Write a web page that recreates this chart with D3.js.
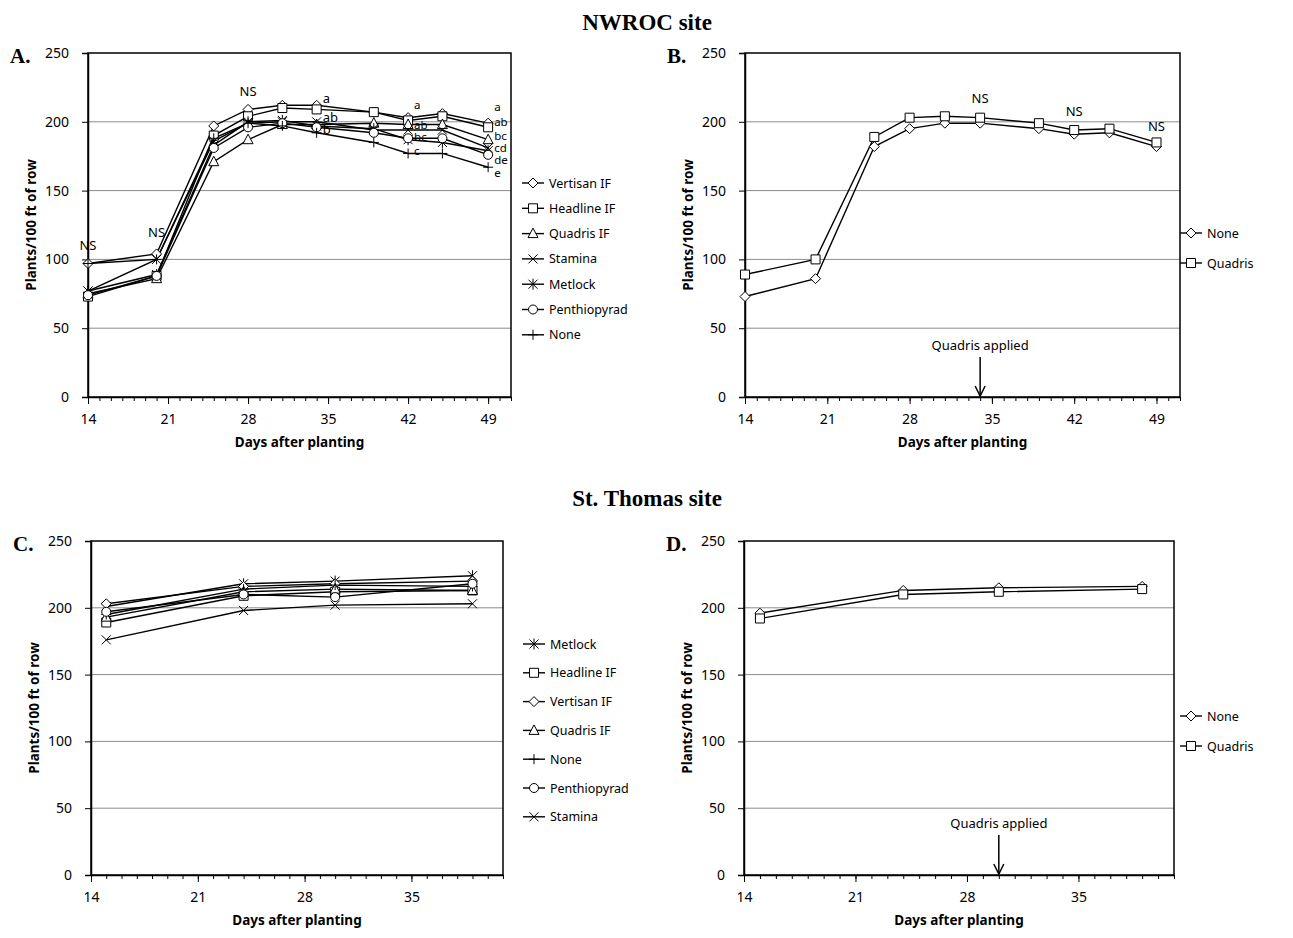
<!DOCTYPE html>
<html>
<head>
<meta charset="utf-8">
<script src="https://cdn.jsdelivr.net/npm/d3@7"></script>
<style>
  body { margin: 0; background: #fff; }
  svg text { font-family: "Noto Sans", "Open Sans", sans-serif; fill: #000; }
  .tick-label { font-size: 14px; }
  .axis-title { font-size: 13.5px; font-weight: bold; }
  .site-title { font-family: "Liberation Serif", serif !important; font-size: 23px; font-weight: bold; }
  .panel-letter { font-family: "Liberation Serif", serif !important; font-size: 21px; font-weight: bold; }
  .legend-label { font-size: 12.5px; }
  .sig { font-size: 13px; }
  .sig-small { font-size: 11.5px; }
</style>
</head>
<body>
<svg id="chart" width="1293" height="938"></svg>
<script>
// ---- data ----
const yTicks = [0, 50, 100, 150, 200, 250];

// NWROC site, fungicide seed treatments
const daysA = [14, 20, 25, 28, 31, 34, 39, 42, 45, 49];
const namesA = ["Vertisan IF", "Headline IF", "Quadris IF", "Stamina", "Metlock", "Penthiopyrad", "None"];
const vertisanA = [97, 104, 197, 209, 212, 212, 207, 203, 206, 199];
const headlineA = [73, 88, 190, 204, 210, 209, 207, 201, 204, 196];
const quadrisA = [75, 86, 171, 187, 198, 198, 199, 198, 198, 187];
const staminaA = [77, 100, 186, 199, 200, 200, 194, 194, 194, 181];
const metlockA = [77, 89, 183, 200, 201, 197, 195, 187, 185, 179];
const penthioA = [74, 88, 181, 196, 199, 196, 192, 188, 188, 176];
const noneA = [97, 100, 188, 199, 197, 192, 185, 177, 177, 167];
const nsA = [[14, 107], [20, 116], [28, 219]];
const lettersA = [
  [34, 214, "a"], [34, 200, "ab"], [34, 191, "b"],
  [42, 209, "a"], [42, 195, "ab"], [42, 186, "bc"], [42, 176, "c"],
  [49, 208, "a"], [49, 197, "ab"], [49, 187, "bc"], [49, 178, "cd"], [49, 169, "de"], [49, 160, "e"]
];

// NWROC site, Quadris in-furrow vs none
const namesB = ["None", "Quadris"];
const noneB = [73, 86, 182, 195, 199, 199, 195, 191, 192, 182];
const quadrisB = [89, 100, 189, 203, 204, 203, 199, 194, 195, 185];
const nsB = [[34, 214], [42, 204], [49, 193]];
const appliedB = 34;

// St. Thomas site
const daysC = [15, 24, 30, 39];
const namesC = ["Metlock", "Headline IF", "Vertisan IF", "Quadris IF", "None", "Penthiopyrad", "Stamina"];
const metlockC = [201, 218, 220, 224];
const headlineC = [189, 209, 212, 213];
const vertisanC = [203, 216, 218, 220];
const quadrisC = [193, 212, 214, 213];
const noneC = [195, 214, 217, 216];
const penthioC = [197, 210, 208, 218];
const staminaC = [176, 198, 202, 203];

const namesD = ["None", "Quadris"];
const noneD = [196, 213, 215, 216];
const quadrisD = [192, 210, 212, 214];
const appliedD = 30;

const xTicksA = [14, 21, 28, 35, 42, 49];
const xTicksC = [14, 21, 28, 35];

// marker per treatment (panels A, C)
const markerOf = {
  "Vertisan IF": "diamond", "None": "plus", "Headline IF": "square", "Quadris IF": "triangle",
  "Stamina": "x", "Metlock": "asterisk", "Penthiopyrad": "circle"
};
// panels B, D
const markerOf2 = { "None": "diamond", "Quadris": "square" };

const svg = d3.select("#chart");

function markerPath(type) {
  switch (type) {
    case "diamond": return "M0,-5L5,0L0,5L-5,0Z";
    case "square": return "M-4.5,-4.5H4.5V4.5H-4.5Z";
    case "triangle": return "M0,-5.5L5,4L-5,4Z";
    case "x": return "M-4.5,-4.5L4.5,4.5M4.5,-4.5L-4.5,4.5";
    case "plus": return "M-5,0H5M0,-5V5";
    case "asterisk": return "M-4.5,-4.5L4.5,4.5M4.5,-4.5L-4.5,4.5M0,-5.5V5.5";
    default: return null;
  }
}

function drawMarker(g, type, x, y) {
  if (type === "circle") {
    g.append("circle").attr("cx", x).attr("cy", y).attr("r", 4.5)
      .attr("fill", "#fff").attr("stroke", "#000").attr("stroke-width", 1);
    return;
  }
  const open = ["diamond", "square", "triangle"].includes(type);
  g.append("path")
    .attr("d", markerPath(type))
    .attr("transform", "translate(" + x + "," + y + ")")
    .attr("fill", open ? "#fff" : "none")
    .attr("stroke", "#000")
    .attr("stroke-width", 1);
}

function drawPanel(cfg) {
  const g = svg.append("g");
  const x = d3.scaleLinear().domain(cfg.xDomain).range([cfg.left, cfg.right]);
  const y = d3.scaleLinear().domain([0, 250]).range([cfg.bottom, cfg.top]);

  // gridlines
  g.selectAll(".grid")
    .data(yTicks.filter(function(d) { return d > 0 && d < 250; }))
    .enter().append("line")
    .attr("x1", cfg.left).attr("x2", cfg.right)
    .attr("y1", function(d) { return y(d); }).attr("y2", function(d) { return y(d); })
    .attr("stroke", "#8c8c8c").attr("stroke-width", 1);

  // plot border
  g.append("rect")
    .attr("x", cfg.left).attr("y", cfg.top)
    .attr("width", cfg.right - cfg.left).attr("height", cfg.bottom - cfg.top)
    .attr("fill", "none").attr("stroke", "#000").attr("stroke-width", 1.5);

  // y axis
  const yAxis = g.append("g")
    .attr("transform", "translate(" + cfg.left + ",0)")
    .call(d3.axisLeft(y).tickValues(yTicks).tickSize(6).tickPadding(13));
  yAxis.select(".domain").attr("stroke-width", 1.5);
  yAxis.selectAll("text").attr("class", "tick-label").attr("font-size", null).attr("font-family", null);

  // x axis with minor ticks every day
  const minor = d3.range(cfg.xDomain[0], cfg.xDomain[1] + 1);
  g.append("g")
    .attr("transform", "translate(0," + cfg.bottom + ")")
    .call(d3.axisBottom(x).tickValues(minor).tickSize(4).tickFormat(""))
    .call(function(s) { s.select(".domain").remove(); });
  const xAxis = g.append("g")
    .attr("transform", "translate(0," + cfg.bottom + ")")
    .call(d3.axisBottom(x).tickValues(cfg.xTicks).tickSize(7).tickPadding(10).tickSizeOuter(0));
  xAxis.select(".domain").attr("stroke-width", 1.5);
  xAxis.selectAll("text").attr("class", "tick-label").attr("font-size", null).attr("font-family", null);

  // axis titles
  g.append("text").attr("class", "axis-title")
    .attr("x", (cfg.left + cfg.right) / 2).attr("y", cfg.bottom + 50)
    .attr("text-anchor", "middle").text("Days after planting");
  g.append("text").attr("class", "axis-title")
    .attr("transform", "translate(" + (cfg.left - 52) + "," + ((cfg.top + cfg.bottom) / 2) + ") rotate(-90)")
    .attr("text-anchor", "middle").text("Plants/100 ft of row");

  // panel letter
  g.append("text").attr("class", "panel-letter")
    .attr("x", cfg.left - 78).attr("y", cfg.top + 10).text(cfg.letter);

  // series
  const line = d3.line()
    .x(function(d) { return x(d[0]); })
    .y(function(d) { return y(d[1]); });
  cfg.series.forEach(function(s) {
    const pts = cfg.days.map(function(d, i) { return [d, s.values[i]]; });
    g.append("path").datum(pts)
      .attr("d", line).attr("fill", "none")
      .attr("stroke", "#000").attr("stroke-width", 1.4);
  });
  cfg.series.forEach(function(s) {
    const mg = g.append("g");
    cfg.days.forEach(function(d, i) {
      drawMarker(mg, cfg.markers[s.name], x(d), y(s.values[i]));
    });
  });

  // legend
  cfg.series.forEach(function(s, i) {
    const ly = cfg.legend.y + i * cfg.legend.step;
    g.append("line")
      .attr("x1", cfg.legend.x).attr("x2", cfg.legend.x + 22)
      .attr("y1", ly).attr("y2", ly)
      .attr("stroke", "#000").attr("stroke-width", 1.4);
    drawMarker(g, cfg.markers[s.name], cfg.legend.x + 11, ly);
    g.append("text").attr("class", "legend-label")
      .attr("x", cfg.legend.x + 27).attr("y", ly + 4.5).text(s.name);
  });

  // NS labels
  (cfg.ns || []).forEach(function(n) {
    g.append("text").attr("class", "sig")
      .attr("x", x(n[0])).attr("y", y(n[1])).attr("text-anchor", "middle").text("NS");
  });
  // mean separation letters
  (cfg.letters || []).forEach(function(n) {
    g.append("text").attr("class", n[0] >= 42 ? "sig-small" : "sig")
      .attr("x", x(n[0]) + 6).attr("y", y(n[1])).text(n[2]);
  });

  // application arrow
  if (cfg.applied) {
    const ax = x(cfg.applied);
    g.append("line")
      .attr("x1", ax).attr("x2", ax)
      .attr("y1", cfg.bottom - 40).attr("y2", cfg.bottom - 1)
      .attr("stroke", "#000").attr("stroke-width", 1.5);
    g.append("path")
      .attr("d", "M" + (ax - 5) + "," + (cfg.bottom - 11) + "L" + ax + "," + (cfg.bottom - 1) + "L" + (ax + 5) + "," + (cfg.bottom - 11))
      .attr("fill", "none").attr("stroke", "#000").attr("stroke-width", 1.5);
    g.append("text").attr("class", "sig")
      .attr("x", ax).attr("y", cfg.bottom - 47).attr("text-anchor", "middle").text("Quadris applied");
  }
}

// site titles
svg.append("text").attr("class", "site-title").attr("x", 647).attr("y", 30)
  .attr("text-anchor", "middle").text("NWROC site");
svg.append("text").attr("class", "site-title").attr("x", 647).attr("y", 506)
  .attr("text-anchor", "middle").text("St. Thomas site");

const valsA = [vertisanA, headlineA, quadrisA, staminaA, metlockA, penthioA, noneA];
drawPanel({
  letter: "A.", left: 88, right: 511, top: 53, bottom: 397, xDomain: [14, 51], xTicks: xTicksA,
  days: daysA, markers: markerOf,
  series: namesA.map(function(n, i) { return { name: n, values: valsA[i] }; }),
  legend: { x: 522, y: 183, step: 25.3 },
  ns: nsA, letters: lettersA
});

const valsB = [noneB, quadrisB];
drawPanel({
  letter: "B.", left: 745, right: 1180, top: 53, bottom: 397, xDomain: [14, 51], xTicks: xTicksA,
  days: daysA, markers: markerOf2,
  series: namesB.map(function(n, i) { return { name: n, values: valsB[i] }; }),
  legend: { x: 1180, y: 233, step: 30 },
  ns: nsB, applied: appliedB
});

const valsC = [metlockC, headlineC, vertisanC, quadrisC, noneC, penthioC, staminaC];
drawPanel({
  letter: "C.", left: 91, right: 503, top: 541, bottom: 875, xDomain: [14, 41], xTicks: xTicksC,
  days: daysC, markers: markerOf,
  series: namesC.map(function(n, i) { return { name: n, values: valsC[i] }; }),
  legend: { x: 523, y: 644, step: 28.8 }
});

const valsD = [noneD, quadrisD];
drawPanel({
  letter: "D.", left: 744, right: 1174, top: 541, bottom: 875, xDomain: [14, 41], xTicks: xTicksC,
  days: daysC, markers: markerOf2,
  series: namesD.map(function(n, i) { return { name: n, values: valsD[i] }; }),
  legend: { x: 1180, y: 716, step: 30 },
  applied: appliedD
});
</script>
</body>
</html>
